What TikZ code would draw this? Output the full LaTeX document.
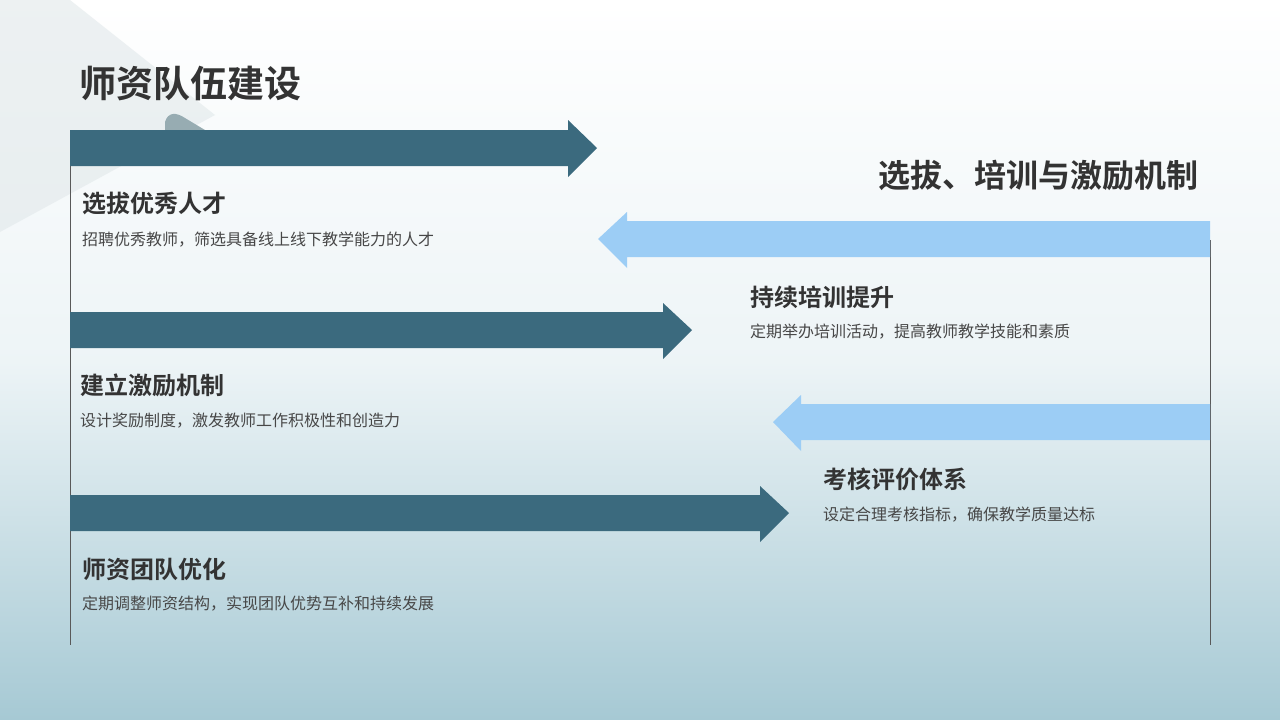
\documentclass[tikz,border=0pt]{standalone}
\usepackage{fontspec}
\setmainfont{Noto Sans CJK SC}
\newfontfamily\cjkb{Noto Sans CJK SC Bold}
\definecolor{dk}{HTML}{3B6A7E}
\definecolor{lt}{HTML}{9CCDF5}
\definecolor{txt}{HTML}{333333}
\definecolor{bgb}{HTML}{A6C9D4}
\begin{document}
\begin{tikzpicture}[x=1pt,y=-1pt,
  hd/.style={anchor=west,font=\cjkb\fontsize{24}{28}\selectfont,text=txt,inner sep=0},
  ds/.style={anchor=west,font=\fontsize{16}{19}\selectfont,text=txt!90,inner sep=0}]
\useasboundingbox (0,0) rectangle (1280,720);
\shade[top color=white,bottom color=bgb,middle color=white!80!bgb] (0,0) rectangle (1280,720);
\fill[white!88!gray!80!bgb,opacity=0.6] (0,0) -- (70,0) -- (215,115) -- (0,232) -- cycle;
\fill[gray!40!bgb] (165,122) .. controls (168,112) and (176,112) .. (185,118) -- (205,130) -- (165,130) -- cycle;
% vertical lines
\draw[gray!70!black,line width=0.8pt] (70,130) coordinate (l1) -- (70,645) coordinate (l2);
\draw[gray!70!black,line width=0.8pt] (1210,240) coordinate (r1) -- (1210,645) coordinate (r2);
% dark arrows
\fill[dk] (70,130) -- (568,130) -- (568,120) -- (597,148) -- (568,177) -- (568,166) -- (70,166) -- cycle;
\fill[dk] (70,312) -- (663,312) -- (663,303) -- (692,330) -- (663,359) -- (663,348) -- (70,348) -- cycle;
\fill[dk] (70,495) -- (760,495) -- (760,486) -- (789,513) -- (760,542) -- (760,531) -- (70,531) -- cycle;
% light arrows
\fill[lt] (1210,221) -- (627,221) -- (627,212) -- (598,239) -- (627,268) -- (627,257) -- (1210,257) -- cycle;
\fill[lt] (1210,404) -- (801,404) -- (801,395) -- (773,422) -- (801,451) -- (801,440) -- (1210,440) -- cycle;
% texts
\node[anchor=west,font=\cjkb\fontsize{37}{42}\selectfont,text=txt,inner sep=0] (t) at (79,83) {师资队伍建设};
\node[anchor=east,font=\cjkb\fontsize{32}{36}\selectfont,text=txt,inner sep=0] (t2) at (1199,175) {选拔、培训与激励机制};
\node[hd] (h1) at (82,203) {选拔优秀人才};
\node[ds] (d1) at (82,240) {招聘优秀教师，筛选具备线上线下教学能力的人才};
\node[hd] (h2) at (750,297) {持续培训提升};
\node[ds] (d2) at (750,332) {定期举办培训活动，提高教师教学技能和素质};
\node[hd] (h3) at (80,385) {建立激励机制};
\node[ds] (d3) at (80,421) {设计奖励制度，激发教师工作积极性和创造力};
\node[hd] (h4) at (823,479) {考核评价体系};
\node[ds] (d4) at (823,515) {设定合理考核指标，确保教学质量达标};
\node[hd] (h5) at (82,569) {师资团队优化};
\node[ds] (d5) at (82,604) {定期调整师资结构，实现团队优势互补和持续发展};
\end{tikzpicture}
\end{document}
